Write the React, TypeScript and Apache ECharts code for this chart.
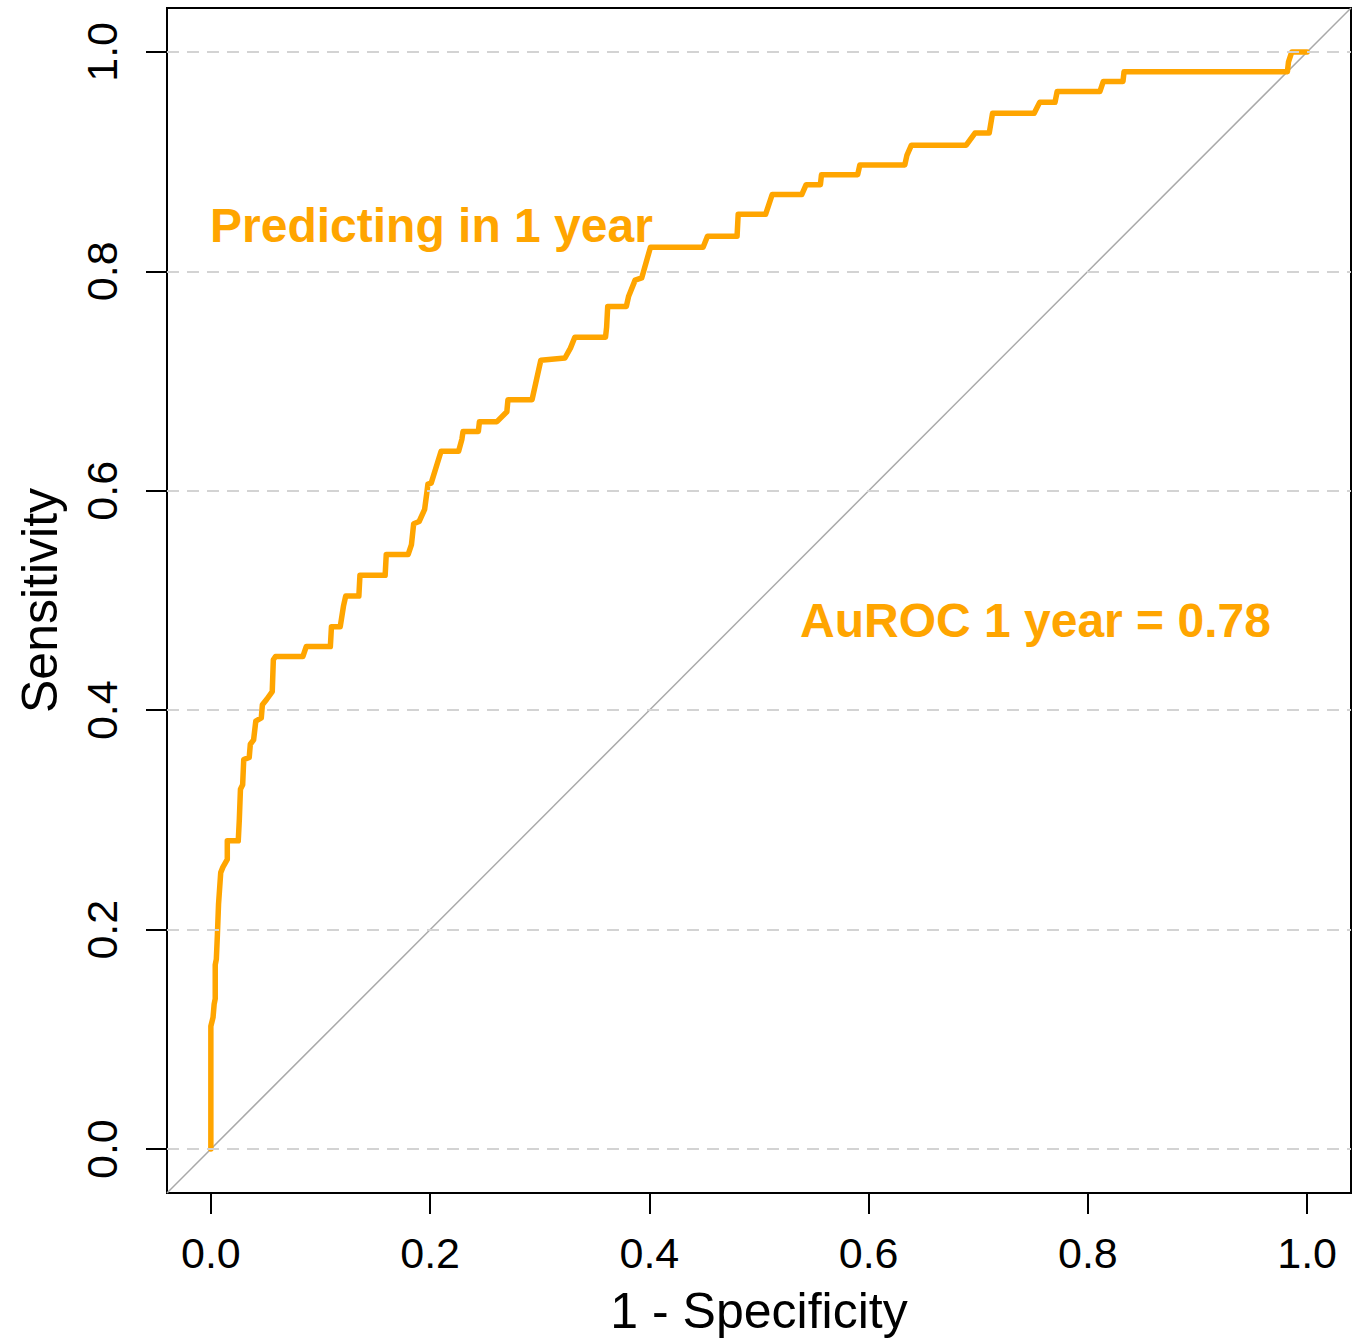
import React, { useEffect, useRef } from "react";
import * as echarts from "echarts";

// ROC curve (1 - specificity, sensitivity)
const fpr = [
  0, 0, 0.002, 0.003, 0.004, 0.004, 0.005, 0.006, 0.007, 0.009, 0.011, 0.015, 0.015, 0.025,
  0.026, 0.027, 0.029, 0.030, 0.035, 0.036, 0.039, 0.041, 0.046, 0.047, 0.051, 0.056, 0.057,
  0.059, 0.084, 0.087, 0.109, 0.110, 0.118, 0.121, 0.123, 0.135, 0.136, 0.159, 0.160, 0.180,
  0.183, 0.185, 0.190, 0.195, 0.197, 0.198, 0.201, 0.210, 0.226, 0.229, 0.230, 0.244, 0.245,
  0.261, 0.270, 0.271, 0.293, 0.301, 0.323, 0.328, 0.332, 0.360, 0.361, 0.362, 0.379, 0.381,
  0.387, 0.393, 0.401, 0.449, 0.453, 0.480, 0.481, 0.506, 0.512, 0.539, 0.543, 0.556, 0.557,
  0.590, 0.592, 0.633, 0.635, 0.639, 0.689, 0.697, 0.710, 0.713, 0.751, 0.756, 0.770, 0.772,
  0.811, 0.814, 0.832, 0.833, 0.982, 0.983, 0.986, 1.0,
];
const tpr = [
  0, 0.112, 0.120, 0.132, 0.137, 0.168, 0.173, 0.196, 0.223, 0.252, 0.257, 0.264, 0.281, 0.281,
  0.301, 0.328, 0.332, 0.355, 0.357, 0.369, 0.373, 0.390, 0.393, 0.405, 0.410, 0.417, 0.446,
  0.449, 0.449, 0.458, 0.458, 0.476, 0.476, 0.495, 0.504, 0.504, 0.523, 0.523, 0.542, 0.542,
  0.551, 0.570, 0.572, 0.583, 0.598, 0.606, 0.607, 0.636, 0.636, 0.647, 0.654, 0.654, 0.663,
  0.663, 0.672, 0.683, 0.683, 0.719, 0.721, 0.730, 0.740, 0.740, 0.749, 0.768, 0.768, 0.777,
  0.792, 0.794, 0.822, 0.822, 0.832, 0.832, 0.852, 0.852, 0.870, 0.870, 0.879, 0.879, 0.888,
  0.888, 0.897, 0.897, 0.906, 0.915, 0.915, 0.926, 0.926, 0.944, 0.944, 0.954, 0.954, 0.964,
  0.964, 0.973, 0.973, 0.982, 0.982, 0.991, 1.0, 1.0,
];

const tickValues = [0, 0.2, 0.4, 0.6, 0.8, 1.0];
const axisMin = -0.04;
const axisMax = 1.04;
const diagonal = [axisMin, axisMax];
const curveLabel = "Predicting in 1 year";
const aucLabel = "AuROC 1 year = 0.78";
const xTitle = "1 - Specificity";
const yTitle = "Sensitivity";

const FONT = '"Liberation Sans", Arial, sans-serif';
const ORANGE = "#FFA500";

export default function App() {
  const ref = useRef<HTMLDivElement>(null);
  useEffect(() => {
    if (!ref.current) return;
    const chart = echarts.init(ref.current, null, { renderer: "svg" });
    const axisCommon = {
      type: "value" as const,
      min: axisMin,
      max: axisMax,
      splitLine: { show: false },
      axisLine: { show: true, onZero: false, lineStyle: { color: "#000", width: 2 } },
      axisTick: {
        show: true,
        inside: false,
        length: 21,
        customValues: tickValues,
        lineStyle: { color: "#000", width: 2 },
      },
      nameLocation: "middle" as const,
    };
    chart.setOption({
      animation: false,
      backgroundColor: "#fff",
      grid: {
        left: 167,
        top: 8,
        width: 1184,
        height: 1185,
        show: true,
        borderColor: "#000",
        borderWidth: 2,
        backgroundColor: "transparent",
      },
      xAxis: {
        ...axisCommon,
        name: xTitle,
        nameGap: 93,
        nameTextStyle: { fontSize: 50, color: "#000", fontFamily: FONT },
        axisLabel: {
          customValues: tickValues,
          formatter: (v: number) => v.toFixed(1),
          fontSize: 43,
          color: "#000",
          fontFamily: FONT,
          margin: 38,
        },
      },
      yAxis: {
        ...axisCommon,
        name: yTitle,
        nameGap: 102,
        nameTextStyle: { fontSize: 50, color: "#000", fontFamily: FONT },
        axisLabel: {
          customValues: tickValues,
          formatter: (v: number) => v.toFixed(1),
          fontSize: 43,
          color: "#000",
          fontFamily: FONT,
          rotate: 90,
          margin: 44,
        },
      },
      series: [
        {
          type: "line",
          data: diagonal.map((v) => [v, v]),
          showSymbol: false,
          silent: true,
          z: 1,
          lineStyle: { color: "#a9a9a9", width: 1.5 },
          markLine: {
            silent: true,
            symbol: "none",
            label: { show: false },
            lineStyle: { color: "#d3d3d3", width: 2, type: [12, 8] },
            data: tickValues.map((v) => ({ yAxis: v })),
          },
        },
        {
          type: "line",
          data: fpr.map((x, i) => [x, tpr[i]]),
          showSymbol: false,
          silent: true,
          z: 3,
          lineStyle: { color: ORANGE, width: 5.5, join: "round", cap: "round" },
        },
      ],
      graphic: [
        {
          type: "text",
          x: 210,
          y: 225,
          style: {
            text: curveLabel,
            fill: ORANGE,
            font: `bold 48px ${FONT}`,
            align: "left",
            verticalAlign: "middle",
          },
        },
        {
          type: "text",
          x: 800,
          y: 620,
          style: {
            text: aucLabel,
            fill: ORANGE,
            font: `bold 48px ${FONT}`,
            align: "left",
            verticalAlign: "middle",
          },
        },
      ],
    });
    return () => chart.dispose();
  }, []);
  return (
    <div
      ref={ref}
      style={{ position: "absolute", left: 0, top: 0, width: 1352, height: 1344 }}
    />
  );
}
